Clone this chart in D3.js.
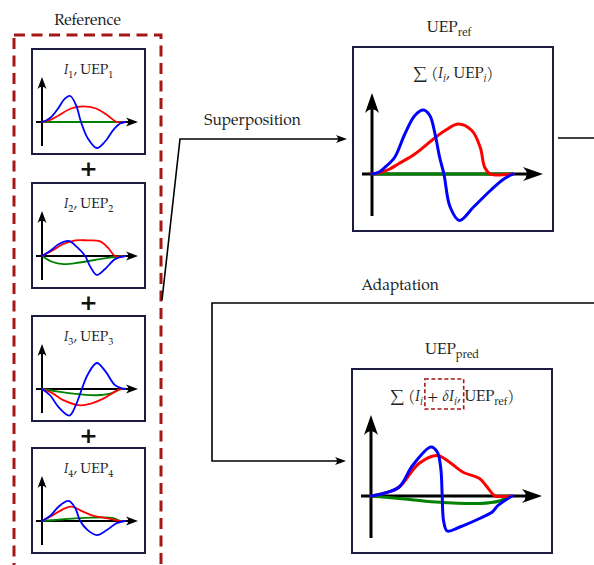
<!DOCTYPE html>
<html><head><meta charset="utf-8">
<script src="https://cdn.jsdelivr.net/npm/d3@7"></script>
<style>
body{margin:0;background:#fff}
svg{display:block}
</style>
</head><body>
<svg id="c" width="594" height="565"></svg>
<script>
// ---------------- DATA (x: fraction of time axis, y: amplitude units) ----------------
const smallTitles = ["1", "2", "3", "4"];
const blue1 = [[0,0],[0.06,0.08],[0.12,0.22],[0.2,0.55],[0.27,0.88],[0.34,1.0],[0.41,0.65],[0.47,0],[0.55,-0.62],[0.66,-1.0],[0.76,-0.75],[0.86,-0.3],[0.94,-0.06],[1,0]];
const red1 = [[0,0],[0.1,0.08],[0.2,0.25],[0.35,0.52],[0.5,0.6],[0.65,0.52],[0.78,0.28],[0.9,0],[1,0]];
const green1 = [[0,0],[1,0]];
const blue2 = [[0,0],[0.1,0.2],[0.2,0.45],[0.32,0.58],[0.42,0.35],[0.52,0],[0.58,-0.4],[0.66,-0.73],[0.76,-0.5],[0.88,-0.12],[1,0]];
const red2 = [[0,0],[0.12,0.2],[0.25,0.45],[0.4,0.6],[0.55,0.6],[0.7,0.56],[0.8,0.3],[0.88,0],[1,0]];
const green2 = [[0,0],[0.12,-0.22],[0.26,-0.31],[0.45,-0.25],[0.7,-0.12],[0.95,0],[1,0]];
const blue3 = [[0,0],[0.1,-0.25],[0.2,-0.7],[0.33,-1.02],[0.41,-0.6],[0.48,0],[0.55,0.55],[0.66,1.0],[0.76,0.7],[0.88,0.15],[1,0]];
const red3 = [[0,0],[0.12,-0.15],[0.25,-0.42],[0.46,-0.63],[0.6,-0.55],[0.75,-0.35],[0.88,-0.1],[0.94,0],[1,0]];
const green3 = [[0,0],[0.2,-0.1],[0.45,-0.2],[0.66,-0.24],[0.82,-0.18],[0.95,0],[1,0]];
const blue4 = [[0,0],[0.1,0.2],[0.2,0.55],[0.32,0.77],[0.4,0.5],[0.46,0],[0.55,-0.35],[0.66,-0.54],[0.78,-0.35],[0.9,-0.08],[1,0]];
const red4 = [[0,0],[0.12,0.2],[0.25,0.45],[0.36,0.55],[0.48,0.38],[0.6,0.22],[0.72,0.14],[0.85,0.06],[0.95,0],[1,0]];
const green4 = [[0,0],[0.2,0.05],[0.4,0.1],[0.6,0.13],[0.85,0.12],[0.95,0],[1,0]];
const blueRef = [[0,0],[0.05,0.04],[0.09,0.13],[0.16,0.33],[0.233,0.8],[0.304,1.17],[0.364,1.28],[0.41,1.17],[0.447,0.8],[0.48,0.33],[0.51,0],[0.554,-0.66],[0.62,-0.93],[0.72,-0.66],[0.84,-0.33],[0.93,-0.11],[1,0]];
const redRef = [[0,0],[0.07,0.04],[0.126,0.1],[0.186,0.2],[0.304,0.4],[0.423,0.67],[0.518,0.87],[0.613,1.0],[0.708,0.87],[0.768,0.53],[0.8,0.13],[0.84,0],[1,0]];
const greenRef = [[0,0],[1,0]];
const bluePred = [[0,0],[0.1,0.06],[0.2,0.18],[0.295,0.61],[0.425,0.98],[0.47,0.88],[0.495,0.55],[0.505,0],[0.515,-0.5],[0.54,-0.7],[0.63,-0.62],[0.77,-0.45],[0.86,-0.32],[0.9,-0.19],[1,0]];
const redPred = [[0,0],[0.1,0.06],[0.2,0.18],[0.34,0.65],[0.47,0.81],[0.555,0.68],[0.65,0.48],[0.77,0.35],[0.815,0.21],[0.86,0.05],[0.88,0],[1,0]];
const greenPred = [[0,0],[0.2,-0.05],[0.46,-0.12],[0.77,-0.15],[0.91,-0.1],[0.98,0]];
const labels = {reference:"Reference", superposition:"Superposition", adaptation:"Adaptation"};

// ---------------- LAYOUT ----------------
const COL = {blue:"#0000ff", red:"#ff0000", green:"#008000", frame:"#1c1c40", dash:"#a51616", ink:"#000", text:"#222"};
const FONT = "'TeX Gyre Pagella', 'Liberation Serif', 'DejaVu Serif', serif";
const smallBox = {x:32, w:113, h:105, tops:[49,183,316,448]};
const refBox = {x:353, y:47, w:200, h:184};
const predBox = {x:352, y:369, w:200, h:184};
const refFrame = {x:14, y:35, w:147, h:560};

const svg = d3.select("#c");

function stealth(g, x, y, ang, L, W, fill){
  g.append("path")
   .attr("d", `M0,0 L${-L},${-W/2} Q${-0.62*L},0 ${-L},${W/2} Z`)
   .attr("transform", `translate(${x},${y}) rotate(${ang})`)
   .attr("fill", fill);
}

function label(g, x, y, str, size){
  return g.append("text").attr("x", x).attr("y", y).attr("text-anchor", "middle")
    .attr("font-family", FONT).attr("font-size", size).attr("fill", COL.text).text(str);
}

// rich text: segs = [[str, kind]] kind: "" | "i" | "sub" | "subi"
function rich(g, x, y, segs, size){
  const t = g.append("text").attr("x", x).attr("y", y).attr("font-size", size)
    .attr("font-family", FONT).attr("fill", COL.text).attr("text-anchor", "middle");
  let off = 0;
  segs.forEach(([s, k]) => {
    const sp = t.append("tspan").text(s);
    const sub = k.includes("sub");
    const target = sub ? size*0.28 : 0;
    if (target !== off){ sp.attr("dy", target - off); off = target; }
    if (sub) sp.attr("font-size", size*0.72);
    if (k.includes("i")) sp.attr("font-style", "italic");
  });
  return t;
}

function panel(box, s, curves){
  const g = svg.append("g");
  g.append("rect").attr("x", box.x).attr("y", box.y).attr("width", box.w).attr("height", box.h)
   .attr("fill", "#fff").attr("stroke", COL.frame).attr("stroke-width", s.frameW);
  const ax = box.x + s.axL, ay = box.y + s.axY;
  const x = d3.scaleLinear().domain([0,1]).range([ax, box.x + s.curveR]);
  const y = d3.scaleLinear().domain([-1,1]).range([ay + s.unit, ay - s.unit]);
  const vTop = box.y + s.vTop, vBot = box.y + s.vBot;
  const hL = box.x + s.hL, hR = box.x + s.hR;
  g.append("line").attr("x1", ax).attr("x2", ax).attr("y1", vBot).attr("y2", vTop + s.aL*0.6)
   .attr("stroke", COL.ink).attr("stroke-width", s.axW);
  stealth(g, ax, vTop, -90, s.aL, s.aW, COL.ink);
  g.append("line").attr("x1", hL).attr("x2", hR - s.aL*0.6).attr("y1", ay).attr("y2", ay)
   .attr("stroke", COL.ink).attr("stroke-width", s.axW);
  stealth(g, hR, ay, 0, s.aL, s.aW, COL.ink);
  const line = d3.line().x(d => x(d[0])).y(d => y(d[1])).curve(d3.curveCatmullRom.alpha(0.5));
  [["green", curves.green], ["red", curves.red], ["blue", curves.blue]].forEach(([c, data]) => {
    g.append("path").attr("d", line(data)).attr("fill", "none").attr("stroke", COL[c])
     .attr("stroke-width", s.lw).attr("stroke-linejoin", "round").attr("stroke-linecap", "round");
  });
  return g;
}

const smallStyle = {frameW:2, axL:10, axY:73, curveR:93, unit:26, vTop:28, vBot:97, hL:4, hR:106, axW:2, aL:12, aW:9, lw:1.8};
const bigStyle = {frameW:2, axL:19, axY:127, curveR:160, unit:50, vTop:46, vBot:169, hL:9, hR:190, axW:3, aL:20, aW:14, lw:3};

// ---------------- REFERENCE COLUMN ----------------
svg.append("rect").attr("x", refFrame.x).attr("y", refFrame.y).attr("width", refFrame.w).attr("height", refFrame.h)
  .attr("fill", "none").attr("stroke", COL.dash).attr("stroke-width", 3).attr("stroke-dasharray", "11,6.5");
label(svg, refFrame.x + refFrame.w/2, 25, labels.reference, 15.5);

const smallData = [[blue1,red1,green1],[blue2,red2,green2],[blue3,red3,green3],[blue4,red4,green4]];
smallTitles.forEach((n, i) => {
  const box = {x:smallBox.x, y:smallBox.tops[i], w:smallBox.w, h:smallBox.h};
  const [b, r, gr] = smallData[i];
  const g = panel(box, smallStyle, {blue:b, red:r, green:gr});
  rich(g, box.x + box.w/2, box.y + 25, [["I","i"],[n,"sub"],[", UEP",""],[n,"sub"]], 14);
  if (i < smallTitles.length - 1) {
    svg.append("text").attr("x", box.x + box.w/2).attr("y", box.y + box.h + 14)
      .attr("text-anchor", "middle").attr("dominant-baseline", "central")
      .attr("font-family", "DejaVu Sans").attr("font-weight", "bold").attr("font-size", 22)
      .attr("fill", "#111").text("+");
  }
});

// ---------------- UEP_ref ----------------
const gRef = panel(refBox, bigStyle, {blue:blueRef, red:redRef, green:greenRef});
rich(svg, refBox.x + refBox.w/2 - 4, refBox.y - 15, [["UEP",""],["ref","sub"]], 15.5);
rich(gRef, refBox.x + refBox.w/2, refBox.y + 31, [["\u2211 (",""],["I","i"],["i","subi"],[", UEP",""],["i","subi"],[")",""]], 15);

// ---------------- UEP_pred ----------------
const gPred = panel(predBox, bigStyle, {blue:bluePred, red:redPred, green:greenPred});
rich(svg, predBox.x + predBox.w/2, predBox.y - 15, [["UEP",""],["pred","sub"]], 15.5);
const predSegs = [["\u2211 (",""],["I","i"],["i","subi"],[" + ",""],["\u03b4","i"],["I","i"],["i","subi"],[",",""],[" UEP",""],["ref","sub"],[")",""]];
const ft = rich(gPred, predBox.x + predBox.w/2, predBox.y + 32, predSegs, 15);
{
  let idx = 0, start = -1, end = -1;
  predSegs.forEach(([s], k) => {
    if (k === 3) start = idx + 1;
    if (k === 7) end = idx + s.length - 1;
    idx += s.length;
  });
  const node = ft.node();
  const a = node.getExtentOfChar(start), b = node.getExtentOfChar(end);
  const x0 = a.x - 2, x1 = b.x + b.width + 3;
  gPred.append("rect").attr("x", x0).attr("y", predBox.y + 10).attr("width", x1 - x0).attr("height", 30)
    .attr("fill", "none").attr("stroke", COL.dash).attr("stroke-width", 1.6).attr("stroke-dasharray", "4,2.5");
}

// ---------------- CONNECTORS ----------------
const conn = svg.append("g").attr("fill", "none").attr("stroke", COL.ink).attr("stroke-width", 1.6);
const refMidY = refBox.y + refBox.h/2, predMidY = predBox.y + predBox.h/2;
const supStart = [refFrame.x + refFrame.w + 1, 300], elbowX = 180;
conn.append("path").attr("d", d3.line()([supStart, [elbowX, refMidY], [refBox.x - 9, refMidY]]));
stealth(svg, refBox.x - 6, refMidY, 0, 11, 8, COL.ink);
label(svg, (elbowX + refBox.x)/2 - 14, refMidY - 14, labels.superposition, 15.5);
conn.append("path").attr("d", d3.line()([[refBox.x + refBox.w + 5, refMidY - 1], [594, refMidY - 1]]));
const adaptY = 303, adaptX = 212;
conn.append("path").attr("d", d3.line()([[600, adaptY], [adaptX, adaptY], [adaptX, predMidY], [predBox.x - 9, predMidY]]));
stealth(svg, predBox.x - 6, predMidY, 0, 11, 8, COL.ink);
label(svg, 400, adaptY - 13, labels.adaptation, 15.5);
</script>
</body></html>
